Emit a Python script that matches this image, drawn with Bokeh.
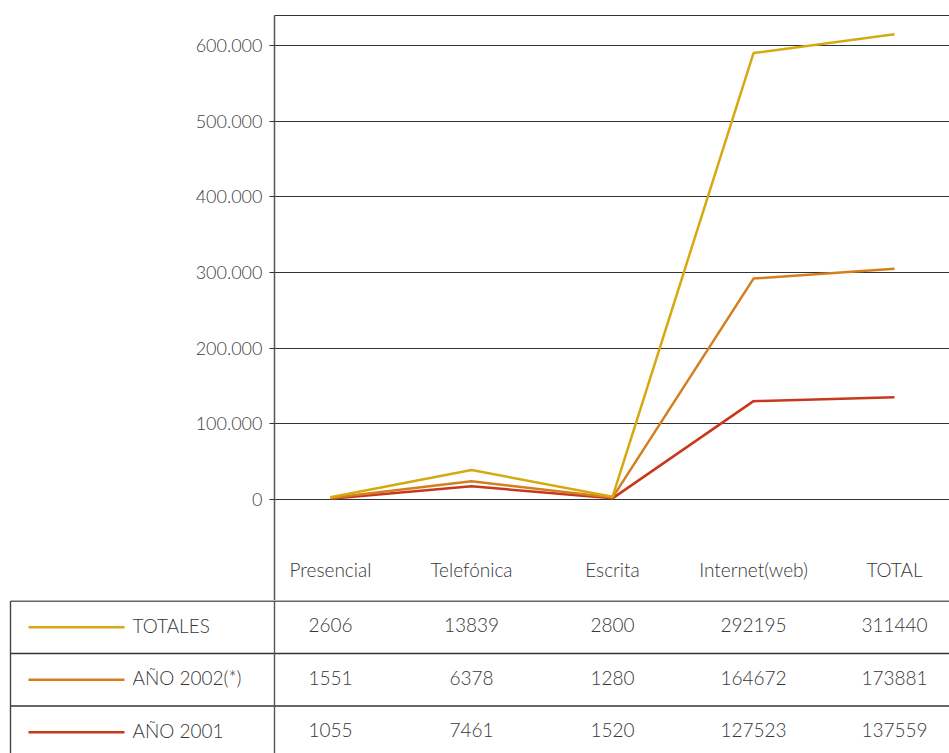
from bokeh.plotting import figure
from bokeh.layouts import column
from bokeh.models import Range1d, FixedTicker, LinearAxis
from bokeh.core.properties import value
from bokeh.embed import file_html
from bokeh.resources import INLINE

# ---------------- data ----------------
categories = ["Presencial", "Telefónica", "Escrita", "Internet(web)", "TOTAL"]
series_names = ["TOTALES", "AÑO 2002(*)", "AÑO 2001"]
series_colors = ["#D6A910", "#D47F1F", "#C8381E"]

# values of the plotted (stacked) lines
line_totales = [3000, 39000, 3500, 590000, 615000]
line_2002 = [2000, 24000, 2500, 292000, 305000]
line_2001 = [1000, 17500, 1500, 130000, 135000]

# values of the data table
tab_totales = [2606, 13839, 2800, 292195, 311440]
tab_2002 = [1551, 6378, 1280, 164672, 173881]
tab_2001 = [1055, 7461, 1520, 127523, 137559]

y_ticks = [0, 100000, 200000, 300000, 400000, 500000, 600000]
y_tick_labels = ["0", "100.000", "200.000", "300.000", "400.000", "500.000", "600.000"]

# ---------------- layout constants (page pixels) ----------------
FONT = "Lato Light, Lato"
AXIS_FONT_SIZE = "18px"
FONT_SIZE = "19px"
TEXT_COLOR = "#363636"
LINE_COLOR = "#333333"
FIG_W = 949
FRAME_LEFT, FRAME_RIGHT, FRAME_TOP, FRAME_BOTTOM = 274, 949, 15, 600
ZERO_Y, TOP_TICK_Y = 499, 45
CAT0_X, CAT_STEP = 330, 141
TABLE_LEFT, TABLE_BOTTOM = 10, 753
ROW_H = 52.5
CAT_LABEL_Y = 569
TEXT_DY = 2  # px, raise table texts slightly

px_per_unit = (ZERO_Y - TOP_TICK_Y) / y_ticks[-1]
to_x = lambda px: (px - CAT0_X) / CAT_STEP

xs = list(range(len(categories)))

# ---------------- chart ----------------
p = figure(
    width=FIG_W, height=FRAME_BOTTOM,
    x_range=Range1d(to_x(FRAME_LEFT), to_x(FRAME_RIGHT)),
    y_range=Range1d(-(FRAME_BOTTOM - ZERO_Y) / px_per_unit, (ZERO_Y - FRAME_TOP) / px_per_unit),
    x_axis_location=None, y_axis_location="left",
    output_backend="svg", toolbar_location=None,
    min_border_left=FRAME_LEFT, min_border_right=0,
    min_border_top=FRAME_TOP, min_border_bottom=0,
)
p.frame_align = False
p.outline_line_color = None

p.yaxis.ticker = FixedTicker(ticks=y_ticks)
p.yaxis.major_label_overrides = {t: l for t, l in zip(y_ticks, y_tick_labels)}
p.yaxis.axis_line_color = "#555555"
p.yaxis.axis_line_width = 1.5
p.yaxis.major_tick_out = 5
p.yaxis.major_tick_in = 0
p.yaxis.major_tick_line_color = LINE_COLOR
p.yaxis.minor_tick_line_color = None
p.yaxis.major_label_standoff = 7
p.yaxis.major_label_text_font = FONT
p.yaxis.major_label_text_font_size = AXIS_FONT_SIZE
p.yaxis.major_label_text_color = "#404040"

p.ygrid.ticker = FixedTicker(ticks=y_ticks)
p.ygrid.grid_line_color = LINE_COLOR
p.ygrid.grid_line_width = 1
p.xgrid.grid_line_color = None

top_axis = LinearAxis(ticker=FixedTicker(ticks=[]), axis_line_color=LINE_COLOR,
                      axis_line_width=1.2, major_tick_line_color=None,
                      minor_tick_line_color=None, major_label_text_font_size="0px")
p.add_layout(top_axis, "above")

for vals, color in zip([line_2001, line_2002, line_totales], series_colors[::-1]):
    p.line(xs, vals, line_color=color, line_width=2.5)

cat_y = -(CAT_LABEL_Y - ZERO_Y) / px_per_unit
p.text(x=xs, y=[cat_y] * len(xs), text=categories,
       text_font=value(FONT), text_font_size=FONT_SIZE, text_color=TEXT_COLOR,
       text_align="center", text_baseline="middle")

# ---------------- table ----------------
tab_h = TABLE_BOTTOM - FRAME_BOTTOM
t = figure(
    width=FIG_W, height=tab_h,
    x_range=Range1d(to_x(0), to_x(FRAME_RIGHT)),
    y_range=Range1d((TABLE_BOTTOM - FRAME_BOTTOM - 0.5) / ROW_H, -0.5 / ROW_H),
    x_axis_location=None, y_axis_location=None,
    output_backend="svg", toolbar_location=None,
    min_border_left=0, min_border_right=0, min_border_top=0, min_border_bottom=0,
)
t.frame_align = False
t.outline_line_color = None
t.xgrid.grid_line_color = None
t.ygrid.grid_line_color = None

n_rows = len(series_names)
y_bottom = (TABLE_BOTTOM - FRAME_BOTTOM) / ROW_H
t.segment(x0=[to_x(TABLE_LEFT)] * n_rows, x1=[to_x(FRAME_RIGHT)] * n_rows,
          y0=list(range(n_rows)), y1=list(range(n_rows)),
          line_color=LINE_COLOR, line_width=1.3)
t.segment(x0=[to_x(TABLE_LEFT), to_x(FRAME_LEFT)], x1=[to_x(TABLE_LEFT), to_x(FRAME_LEFT)],
          y0=[0, 0], y1=[y_bottom, y_bottom],
          line_color=["#444444", "#555555"], line_width=1.4)

row_y = [i + 0.5 for i in range(n_rows)]
text_y = [y - TEXT_DY / ROW_H for y in row_y]
t.segment(x0=[to_x(28)] * n_rows, x1=[to_x(124)] * n_rows, y0=row_y, y1=row_y,
          line_color=series_colors, line_width=2.5)
t.text(x=[to_x(132)] * n_rows, y=text_y, text=series_names,
       text_font=value(FONT), text_font_size=FONT_SIZE, text_color=TEXT_COLOR,
       text_align="left", text_baseline="middle")

for r, vals in enumerate([tab_totales, tab_2002, tab_2001]):
    t.text(x=xs, y=[text_y[r]] * len(xs), text=[str(v) for v in vals],
           text_font=value(FONT), text_font_size=FONT_SIZE, text_color=TEXT_COLOR,
           text_align="center", text_baseline="middle")

layout = column(p, t, spacing=0)
open("out.html", "w").write(file_html(layout, INLINE))
